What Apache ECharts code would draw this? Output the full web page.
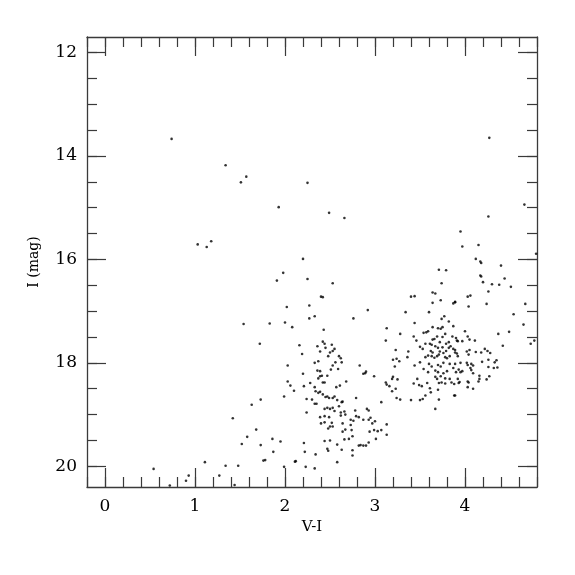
<!DOCTYPE html>
<html>
<head>
<meta charset="utf-8">
<script src="https://cdn.jsdelivr.net/npm/echarts@6/dist/echarts.min.js"></script>
<style>html,body{margin:0;padding:0;background:#fff}#chart{width:575px;height:575px}</style>
</head>
<body>
<div id="chart"></div>
<script>
// Tick values
var xMajorTicks = [0, 1, 2, 3, 4];
var xMinorTicks = [-0.2, 0, 0.2, 0.4, 0.6, 0.8, 1, 1.2, 1.4, 1.6, 1.8, 2, 2.2, 2.4, 2.6, 2.8, 3, 3.2, 3.4, 3.6, 3.8, 4, 4.2, 4.4, 4.6, 4.8];
var yMajorTicks = [12, 14, 16, 18, 20];
var yMinorTicks = [12, 12.5, 13, 13.5, 14, 14.5, 15, 15.5, 16, 16.5, 17, 17.5, 18, 18.5, 19, 19.5, 20];

// Star data: [V-I, I (mag)]
var sparseStars = [
  [0.74,13.67],[1.34,14.18],[1.57,14.40],[1.51,14.51],[1.93,14.99],[1.18,15.65],[1.03,15.71],[1.13,15.76],
  [1.98,16.26],[1.91,16.41],[2.20,15.99],[2.25,16.38],[2.02,16.92],[1.54,17.25],[1.83,17.24],[2.00,17.22],
  [2.08,17.31],[1.72,17.63],[4.27,13.65],[4.66,14.94],[4.26,15.17],[3.95,15.46],[4.79,15.89],
  [2.25,14.52],[2.49,15.10],[2.66,15.20]
];
var lowerLeftStars = [
  [0.54,20.05],[0.72,20.37],[0.90,20.28],[0.93,20.18],[1.11,19.92],[1.27,20.18],[1.34,19.99],[1.44,20.36],
  [1.48,19.99],[1.42,19.07],[1.52,19.57],[1.58,19.43],[1.68,19.29],[1.73,19.59],[1.73,18.71],[1.63,18.81],
  [1.76,19.89],[1.78,19.88],[1.86,19.47],[1.95,19.52],[1.87,19.72],[1.99,20.01],[2.11,19.91],[2.12,19.90],
  [1.99,18.65],[2.03,18.05],[2.03,18.36],[2.06,18.44],[2.10,18.54]
];
var blueClumpStars = [
  [2.53,16.46],[2.40,16.72],[2.42,16.73],[2.27,16.89],[2.92,16.98],[2.33,17.10],[2.27,17.14],[2.76,17.14],
  [2.43,17.36],[3.13,17.33],[3.12,17.57],[2.42,17.59],[2.44,17.63],[2.52,17.65],[2.36,17.68],[2.16,17.66],
  [2.45,17.71],[2.55,17.73],[2.39,17.78],[2.50,17.80],[2.53,17.77],[2.19,17.83],[2.60,17.87],[2.62,17.91],
  [2.48,17.87],[2.33,18.00],[2.37,17.97],[2.56,17.99],[2.63,17.99],[2.53,18.05],[2.51,18.13],[2.83,18.05],
  [2.36,18.15],[2.39,18.16],[2.59,18.12],[2.87,18.21],[2.89,18.20],[2.90,18.17],[2.99,18.26],[2.20,18.21],
  [2.39,18.26],[2.41,18.25],[2.37,18.30],[2.47,18.25],[2.42,18.38],[2.44,18.38],[2.57,18.47],[2.61,18.44],
  [2.68,18.36],[2.21,18.45],[2.28,18.39],[2.33,18.47],[2.37,18.58],[2.39,18.56],[2.42,18.61],[2.34,18.55],
  [2.24,18.70],[2.30,18.71],[2.33,18.79],[2.35,18.79],[2.45,18.66],[2.47,18.65],[2.49,18.68],[2.53,18.68],
  [2.55,18.65],[2.58,18.72],[2.63,18.76],[2.64,18.75],[2.79,18.68],[3.07,18.76],[2.60,18.84],[2.24,18.96],
  [2.44,18.89],[2.47,18.87],[2.50,18.89],[2.53,18.87],[2.55,18.93],[2.62,18.96],[2.66,18.94],[2.78,18.92],
  [2.91,18.89],[2.93,18.92],[2.79,19.03],[2.82,19.05],[2.39,19.05],[2.44,19.03],[2.49,19.05],[2.62,19.02],
  [2.67,19.00],[2.73,19.10],[2.76,19.12],[2.87,19.10],[2.93,19.10],[2.95,19.06],[3.00,19.13],[2.40,19.17],
  [2.44,19.15],[2.52,19.16],[2.53,19.23],[2.64,19.17],[2.73,19.20],[2.97,19.17],[2.48,19.27],[2.50,19.23],
  [2.67,19.29],[2.74,19.30],[2.64,19.33],[2.94,19.33],[2.99,19.30],[3.03,19.32],[3.07,19.30],[3.13,19.19],
  [3.13,19.39],[2.44,19.51],[2.50,19.50],[2.21,19.55],[2.58,19.58],[2.66,19.48],[2.71,19.47],[2.75,19.42],
  [2.82,19.60],[2.84,19.59],[2.87,19.60],[2.90,19.60],[2.93,19.54],[3.01,19.47],[2.47,19.66],[2.48,19.70],
  [2.63,19.68],[2.75,19.69],[2.75,19.79],[2.22,19.72],[2.34,19.77],[2.58,19.92],[2.23,20.01],[2.33,20.04]
];
var redClumpStars = [
  [3.71,16.20],[3.79,16.21],[3.74,16.46],[3.64,16.64],[3.67,16.66],[3.40,16.72],[3.44,16.71],[3.73,16.79],
  [3.64,16.84],[3.87,16.85],[3.89,16.82],[3.34,17.02],[3.60,17.02],[3.77,17.10],[3.74,17.15],[3.82,17.20],
  [3.44,17.23],[3.87,17.29],[3.64,17.31],[3.70,17.33],[3.73,17.34],[3.75,17.31],[3.59,17.39],[3.57,17.41],
  [3.54,17.42],[3.78,17.44],[3.28,17.44],[3.43,17.49],[3.69,17.49],[3.75,17.50],[3.86,17.49],[3.90,17.52],
  [3.91,17.57],[3.46,17.57],[3.64,17.55],[3.66,17.54],[3.72,17.60],[3.79,17.63],[3.82,17.60],[3.56,17.63],
  [3.61,17.63],[3.63,17.65],[3.50,17.69],[3.53,17.73],[3.67,17.68],[3.70,17.71],[3.75,17.70],[3.82,17.71],
  [3.84,17.68],[3.87,17.73],[3.23,17.75],[3.37,17.78],[3.62,17.77],[3.64,17.80],[3.72,17.78],[3.76,17.81],
  [3.79,17.77],[3.89,17.80],[3.91,17.82],[3.56,17.89],[3.59,17.86],[3.63,17.87],[3.66,17.90],[3.69,17.87],
  [3.71,17.84],[3.78,17.89],[3.80,17.91],[3.83,17.87],[3.36,17.89],[3.20,17.94],[3.24,17.92],[3.27,17.97],
  [3.44,18.05],[3.50,17.99],[3.60,18.02],[3.63,18.07],[3.70,18.04],[3.73,18.07],[3.76,18.00],[3.83,18.02],
  [3.87,18.10],[3.22,18.07],[3.54,18.12],[3.59,18.18],[3.67,18.15],[3.70,18.18],[3.76,18.20],[3.80,18.16],
  [3.90,18.18],[3.93,18.13],[3.20,18.27],[3.19,18.31],[3.25,18.32],[3.47,18.31],[3.67,18.27],[3.69,18.31],
  [3.73,18.26],[3.78,18.30],[3.83,18.31],[3.12,18.38],[3.13,18.42],[3.43,18.40],[3.49,18.43],[3.52,18.45],
  [3.58,18.39],[3.71,18.39],[3.74,18.38],[3.78,18.40],[3.85,18.38],[3.88,18.41],[3.93,18.39],[3.16,18.45],
  [3.23,18.50],[3.19,18.55],[3.61,18.49],[3.62,18.57],[3.70,18.52],[3.88,18.63],[3.56,18.63],[3.24,18.68],
  [3.28,18.71],[3.40,18.72],[3.50,18.72],[3.53,18.70],[3.71,18.71],[3.67,18.89]
];
var redTailStars = [
  [3.97,15.75],[4.15,15.72],[4.12,15.99],[4.17,16.04],[4.18,16.07],[4.40,16.12],[4.17,16.31],[4.18,16.33],
  [4.44,16.37],[4.20,16.44],[4.30,16.48],[4.38,16.49],[4.51,16.53],[4.26,16.62],[4.03,16.72],[4.06,16.70],
  [4.04,16.91],[3.89,16.83],[4.24,16.86],[4.67,16.86],[4.54,17.06],[4.65,17.26],[4.37,17.44],[4.49,17.40],
  [4.77,17.57],[4.73,17.63],[4.42,17.67],[4.00,17.39],[4.03,17.49],[4.05,17.55],[3.92,17.58],[3.97,17.58],
  [4.11,17.57],[3.89,17.75],[4.02,17.78],[4.05,17.75],[4.04,17.84],[4.12,17.79],[4.18,17.80],[4.22,17.73],
  [4.25,17.77],[4.28,17.81],[4.26,17.94],[4.35,17.95],[4.33,17.99],[4.19,17.98],[3.95,18.00],[4.02,18.00],
  [4.03,18.04],[4.07,18.02],[4.09,18.05],[3.89,18.02],[4.06,18.10],[4.07,18.14],[4.26,18.08],[4.32,18.10],
  [4.36,18.09],[3.95,18.18],[3.97,18.16],[4.09,18.20],[4.16,18.25],[4.16,18.31],[4.27,18.26],[3.92,18.31],
  [3.94,18.37],[4.03,18.36],[4.04,18.38],[4.15,18.36],[4.24,18.32],[4.03,18.47],[4.09,18.50],[3.89,18.63],
  [3.92,17.87]
];

var allStars = [].concat(sparseStars, lowerLeftStars, blueClumpStars, redClumpStars, redTailStars);

var FONT = 'DejaVu Serif';
var lineCol = '#3a3a3a';
var X_MIN = -0.2, X_MAX = 4.8, Y_MIN = 11.7, Y_MAX = 20.4;

function xAx(pos, major, withLabel) {
  var o = {
    type: 'value', position: pos, min: X_MIN, max: X_MAX, gridIndex: 0,
    axisLine: { show: major, onZero: false, lineStyle: { color: lineCol, width: 1.3 } },
    axisTick: { show: true, inside: true, length: major ? 19 : 10, customValues: major ? xMajorTicks : xMinorTicks,
                lineStyle: { color: lineCol, width: 1.2 } },
    axisLabel: { show: withLabel, customValues: xMajorTicks, fontFamily: FONT, fontSize: 17, color: '#000', margin: 11 },
    splitLine: { show: false }
  };
  if (withLabel) {
    o.name = 'V-I'; o.nameLocation = 'middle'; o.nameGap = 30;
    o.nameTextStyle = { fontFamily: FONT, fontSize: 15, color: '#000' };
  }
  return o;
}
function yAx(pos, major, withLabel) {
  var o = {
    type: 'value', position: pos, inverse: true, min: Y_MIN, max: Y_MAX, gridIndex: 0,
    axisLine: { show: major, onZero: false, lineStyle: { color: lineCol, width: 1.3 } },
    axisTick: { show: true, inside: true, length: major ? 19 : 10, customValues: major ? yMajorTicks : yMinorTicks,
                lineStyle: { color: lineCol, width: 1.2 } },
    axisLabel: { show: withLabel, customValues: yMajorTicks, fontFamily: FONT, fontSize: 17, color: '#000', margin: 10 },
    splitLine: { show: false }
  };
  if (withLabel) {
    o.name = 'I (mag)'; o.nameLocation = 'middle'; o.nameGap = 46; o.nameRotate = 90;
    o.nameTextStyle = { fontFamily: FONT, fontSize: 14, color: '#000' };
  }
  return o;
}

var chart = echarts.init(document.getElementById('chart'), null, { renderer: 'canvas' });
chart.setOption({
  animation: false,
  backgroundColor: '#fff',
  grid: { left: 87, right: 38, top: 37, bottom: 88, containLabel: false, outerBoundsMode: 'none' },
  xAxis: [xAx('bottom', true, true), xAx('bottom', false, false), xAx('top', true, false), xAx('top', false, false)],
  yAxis: [yAx('left', true, true), yAx('left', false, false), yAx('right', true, false), yAx('right', false, false)],
  series: [{
    type: 'scatter', xAxisIndex: 0, yAxisIndex: 0,
    data: allStars, symbol: 'circle', symbolSize: 2.6,
    itemStyle: { color: '#000' }, silent: true
  }]
});
</script>
</body>
</html>
